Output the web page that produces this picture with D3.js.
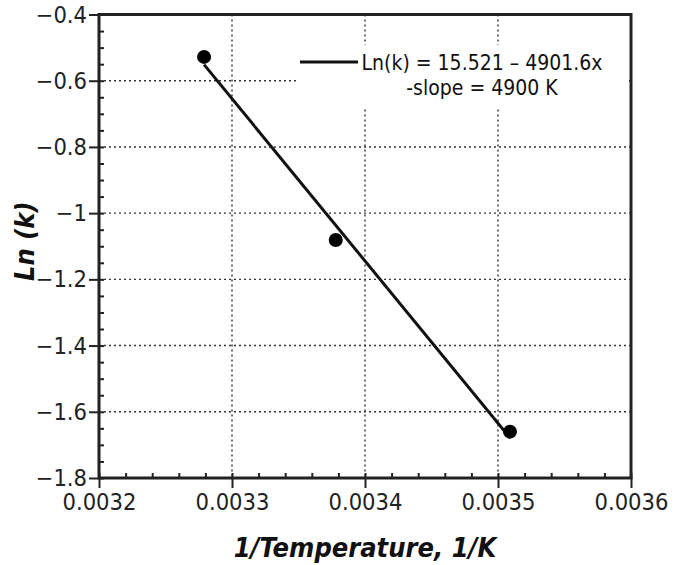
<!DOCTYPE html>
<html>
<head>
<meta charset="utf-8">
<script src="https://cdn.jsdelivr.net/npm/d3@7"></script>
<style>
  body { margin: 0; background: #fff; }
  svg { display: block; }
</style>
</head>
<body>
<svg id="chart" width="685" height="565"></svg>
<script>
// measured points (1/T, ln k)
const invTemp = [0.003279, 0.003378, 0.003509]
const lnK = [-0.528, -1.081, -1.660]

// fit: Ln(k) = intercept - slope * x
const fitIntercept = 15.521
const fitSlope = 4901.6

const xTicks = [0.0032, 0.0033, 0.0034, 0.0035, 0.0036]
const yTicks = [-1.8, -1.6, -1.4, -1.2, -1, -0.8, -0.6, -0.4]
const legendLines = ["Ln(k) = 15.521 \u2013 4901.6x", "-slope = 4900 K"]

const width = 685
const height = 565
const margin = {left: 99, right: 54, top: 14.5, bottom: 87}
const font = "Tahoma, 'DejaVu Sans Condensed', 'DejaVu Sans', sans-serif"

const svg = d3.select("#chart")
const innerW = width - margin.left - margin.right
const innerH = height - margin.top - margin.bottom

const bounds = svg.append("g")
    .attr("transform", `translate(${margin.left},${margin.top})`)

const xScale = d3.scaleLinear().domain([0.0032, 0.0036]).range([0, innerW])
const yScale = d3.scaleLinear().domain([-1.8, -0.4]).range([innerH, 0])

// grid
bounds.append("g")
    .selectAll("line")
    .data(xTicks.slice(1, -1))
    .join("line")
    .attr("x1", d => xScale(d)).attr("x2", d => xScale(d))
    .attr("y1", 0).attr("y2", innerH)
    .attr("stroke", "#333").attr("stroke-width", 1.4)
    .attr("stroke-dasharray", "2,3")
bounds.append("g")
    .selectAll("line")
    .data(yTicks.slice(1, -1))
    .join("line")
    .attr("x1", 0).attr("x2", innerW)
    .attr("y1", d => yScale(d)).attr("y2", d => yScale(d))
    .attr("stroke", "#333").attr("stroke-width", 1.4)
    .attr("stroke-dasharray", "2,3")

// minor ticks (inward)
const xMinor = d3.range(0.0032, 0.00360001, 0.00002)
const yMinor = d3.range(-1.8, -0.3999, 0.05)
bounds.append("g")
    .attr("transform", `translate(0,${innerH})`)
    .call(d3.axisBottom(xScale).tickValues(xMinor).tickSize(-5).tickFormat(""))
    .call(g => g.select(".domain").remove())
    .selectAll("line").attr("stroke", "#222").attr("stroke-width", 2)
bounds.append("g")
    .call(d3.axisLeft(yScale).tickValues(yMinor).tickSize(-5).tickFormat(""))
    .call(g => g.select(".domain").remove())
    .selectAll("line").attr("stroke", "#222").attr("stroke-width", 2)

// major axes
const xAxis = bounds.append("g")
    .attr("transform", `translate(0,${innerH})`)
    .call(d3.axisBottom(xScale).tickValues(xTicks).tickSize(10).tickPadding(5)
        .tickFormat(d3.format(".4f")))
const yAxis = bounds.append("g")
    .call(d3.axisLeft(yScale).tickValues(yTicks).tickSize(10).tickPadding(2)
        .tickFormat(d3.format("~g")))

for (const ax of [xAxis, yAxis]) {
  ax.select(".domain").remove()
  ax.selectAll("line").attr("stroke", "#222").attr("stroke-width", 2)
  ax.selectAll("text").attr("fill", "#222")
      .style("font-family", font).style("font-size", "23.5px")
}

// frame
bounds.append("rect")
    .attr("width", innerW).attr("height", innerH)
    .attr("fill", "none").attr("stroke", "#222").attr("stroke-width", 3)

// fit line
const xMin = d3.min(invTemp)
const xMax = d3.max(invTemp)
bounds.append("line")
    .attr("x1", xScale(xMin)).attr("y1", yScale(fitIntercept - fitSlope * xMin))
    .attr("x2", xScale(xMax)).attr("y2", yScale(fitIntercept - fitSlope * xMax))
    .attr("stroke", "#111").attr("stroke-width", 3)

// points
bounds.selectAll("circle")
    .data(invTemp.map((x, i) => [x, lnK[i]]))
    .join("circle")
    .attr("cx", d => xScale(d[0]))
    .attr("cy", d => yScale(d[1]))
    .attr("r", 7)
    .attr("fill", "#000")

// legend
const legend = svg.append("g").attr("transform", "translate(298,45)")
legend.append("rect")
    .attr("width", 329).attr("height", 63).attr("fill", "#fff")
legend.append("line")
    .attr("x1", 2).attr("x2", 60).attr("y1", 17).attr("y2", 17)
    .attr("stroke", "#111").attr("stroke-width", 3)
legend.selectAll("text")
    .data(legendLines)
    .join("text")
    .attr("x", 184)
    .attr("y", (d, i) => 25 + i * 25)
    .attr("text-anchor", "middle")
    .style("font-family", font)
    .style("font-size", "21px")
    .attr("fill", "#111")
    .text(d => d)

// axis titles
svg.append("text")
    .attr("x", margin.left + innerW / 2)
    .attr("y", 557)
    .attr("text-anchor", "middle")
    .style("font-family", font)
    .style("font-size", "27px")
    .style("font-weight", "bold")
    .style("font-style", "italic")
    .attr("fill", "#111")
    .text("1/Temperature, 1/K")
svg.append("text")
    .attr("transform", `translate(34,${margin.top + innerH / 2 - 5}) rotate(-90)`)
    .attr("text-anchor", "middle")
    .style("font-family", font)
    .style("font-size", "27px")
    .style("font-weight", "bold")
    .style("font-style", "italic")
    .attr("fill", "#111")
    .text("Ln (k)")
</script>
</body>
</html>
